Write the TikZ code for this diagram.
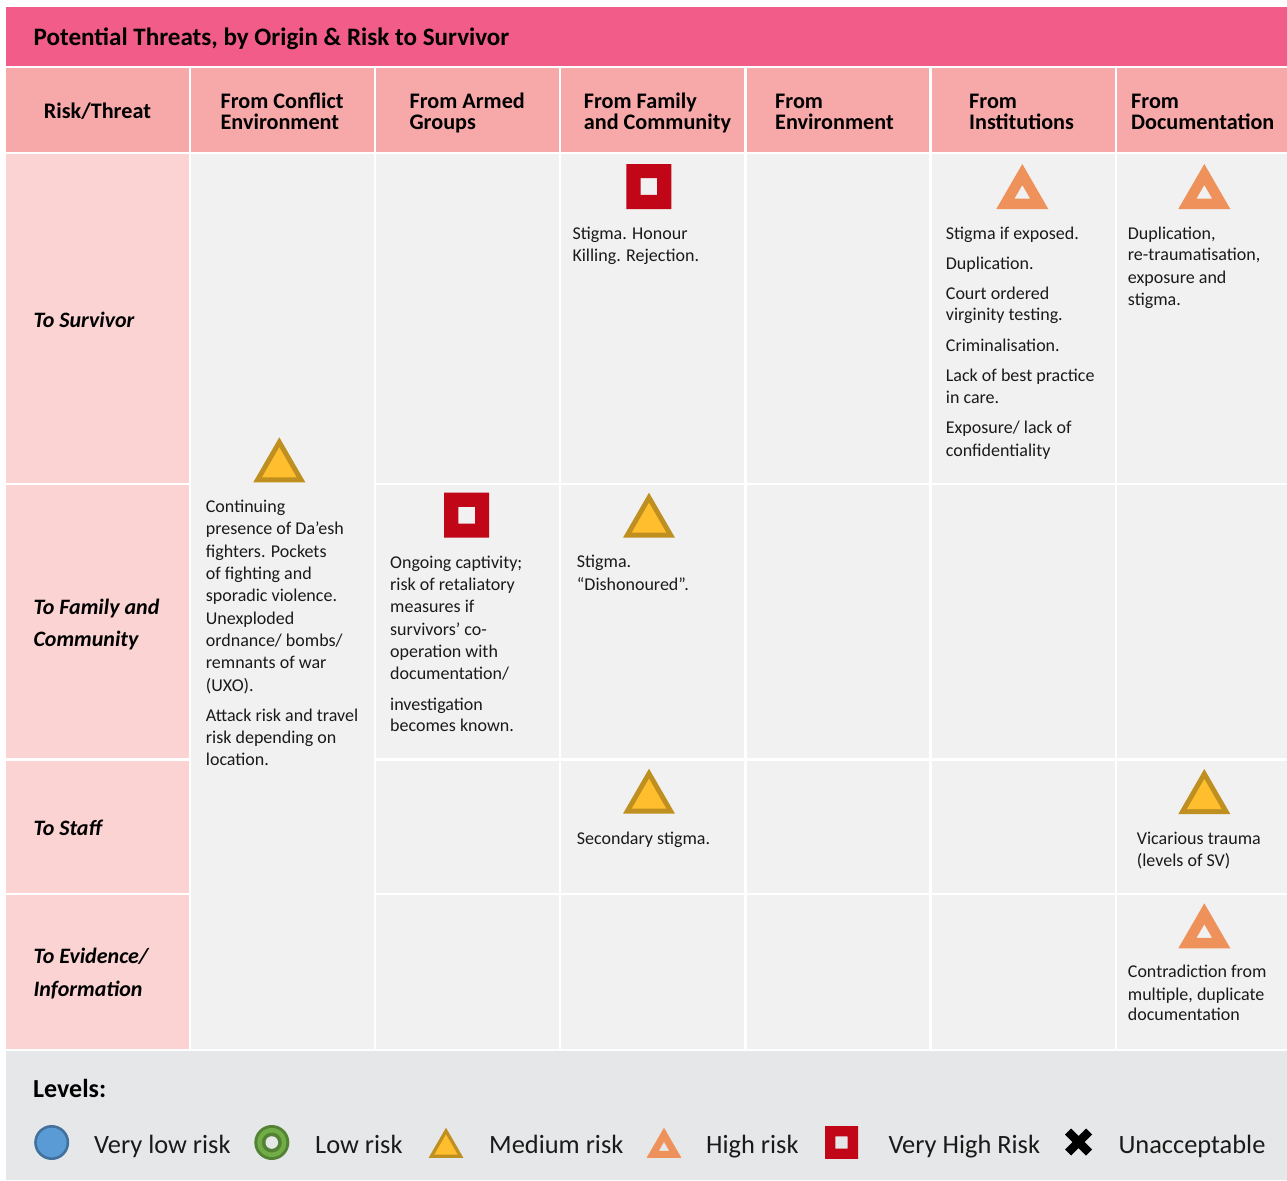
\documentclass[tikz,border=0pt]{standalone}
\usepackage{fontspec}
\setmainfont{Carlito}
\definecolor{titlec}{HTML}{F15C88}
\definecolor{hdrc}{HTML}{F7A9AA}
\definecolor{rowc}{HTML}{FAD3D2}
\definecolor{bodyc}{HTML}{F1F1F1}
\definecolor{legc}{HTML}{E6E7E8}
\definecolor{redc}{HTML}{C00617}
\definecolor{orangec}{HTML}{EF915A}
\definecolor{goldc}{HTML}{FEBE2E}
\definecolor{goldb}{HTML}{BF8F1F}
\definecolor{bluec}{HTML}{5B9BD5}
\definecolor{blueb}{HTML}{41719C}
\definecolor{greend}{HTML}{548235}
\definecolor{greenl}{HTML}{70AD47}
\definecolor{txtc}{HTML}{1A1A1A}
\newcommand\celltext[4]{%
  \foreach \yy/\lin [count=\cnt] in {#4} {\node[#3] (#1-\cnt) at (#2,\yy) {\lin};}}
\begin{document}
\begin{tikzpicture}[x=1pt,y=-1pt,
  bodytxt/.style={inner sep=0pt, anchor=base west, text=txtc, font=\fontsize{18}{22}\selectfont},
  hdrtxt/.style={inner sep=0pt, anchor=base west, text=black, font=\fontsize{22.2}{22}\selectfont\bfseries},
  rowtxt/.style={inner sep=0pt, anchor=base west, text=black, font=\fontsize{22}{22}\selectfont\bfseries\itshape},
  legtxt/.style={inner sep=0pt, anchor=base west, text=txtc, font=\fontsize{26.4}{27}\selectfont},
  medtri/.pic={
    \fill[goldb] (0,0) -- (26,45) -- (-26,45) -- cycle;
    \fill[goldc] (0,10) -- (17.3,40) -- (-17.3,40) -- cycle;},
  hightri/.pic={
    \fill[orangec, even odd rule] (0,0) -- (26,45) -- (-26,45) -- cycle
      (0,21) -- (7.8,34.5) -- (-7.8,34.5) -- cycle;},
  vhsq/.pic={
    \fill[redc, even odd rule] (-22.5,0) rectangle (22.5,45)
      (-8.3,14.2) rectangle (8.3,30.8);}
]
\useasboundingbox (0,0) rectangle (1287,1180);
\fill[white] (0,0) rectangle (1287,1180);
% title bar
\fill[titlec] (6,7) rectangle (1287,66);
\node[inner sep=0pt, anchor=base west, text=black, font=\fontsize{25.1}{25}\selectfont\bfseries] (title) at (33.5,46) {Potential Threats, by Origin \& Risk to Survivor};
% header row
\foreach \xa/\xb in {6/189,191/374,376/559,561/744,747/929,932/1115,1117/1287}
  \fill[hdrc] (\xa,68) rectangle (\xb,152);
% row header cells
\foreach \ya/\yb in {154/483,485/758,761/893,895/1049}
  \fill[rowc] (6,\ya) rectangle (189,\yb);
% merged column 1
\fill[bodyc] (191,154) rectangle (374,1049);
% other body cells
\foreach \xa/\xb in {376/559,561/744,747/929,932/1115,1117/1287}
  \foreach \ya/\yb in {154/483,485/758,761/893,895/1049}
    \fill[bodyc] (\xa,\ya) rectangle (\xb,\yb);
% legend background
\fill[legc] (6,1051) rectangle (1287,1180);

% header texts
\node[hdrtxt, anchor=base] (hrisk) at (97.4,118.5) {Risk/Threat};
\celltext{hconf}{220.4}{hdrtxt}{109/{From Conflict},130/{Environment}}
\celltext{harm}{409.4}{hdrtxt}{109/{From Armed},130/{Groups}}
\celltext{hfam}{583.7}{hdrtxt}{109/{From Family},130/{and Community}}
\celltext{henv}{775}{hdrtxt}{109/{From},130/{Environment}}
\celltext{hinst}{969}{hdrtxt}{109/{From},130/{Institutions}}
\celltext{hdoc}{1131}{hdrtxt}{109/{From},130/{Documentation}}

% row header texts
\celltext{rsurv}{33.3}{rowtxt}{327/{To Survivor}}
\celltext{rfam}{33.3}{rowtxt}{614/{To Family and},646/{Community}}
\celltext{rstaff}{33.3}{rowtxt}{835/{To Staff}}
\celltext{revid}{33.3}{rowtxt}{963.5/{To Evidence/},996/{Information}}

% icons in cells
\pic (i31) at (648.8,164) {vhsq};
\pic (i51) at (1022.3,164) {hightri};
\pic (i61) at (1204.3,164) {hightri};
\pic (i1) at (279.3,437.3) {medtri};
\pic (i22) at (466.7,492.7) {vhsq};
\pic (i32) at (649,492.7) {medtri};
\pic (i33) at (649,768.7) {medtri};
\pic (i63) at (1204.3,769) {medtri};
\pic (i64) at (1204.3,903.3) {hightri};

% cell texts
\celltext{t31}{572.3}{bodytxt}{239.3/{Stigma. Honour},261/{Killing. Rejection.}}
\celltext{t51}{945.7}{bodytxt}{239.3/{Stigma if exposed.},269/{Duplication.},299/{Court ordered},320.7/{virginity testing.},351/{Criminalisation.},381/{Lack of best practice},403.3/{in care.},433.3/{Exposure/ lack of},456/{confidentiality}}
\celltext{t61}{1127.7}{bodytxt}{239.3/{Duplication,},260.7/{re-traumatisation,},283.3/{exposure and},305.7/{stigma.}}
\celltext{t1}{205.7}{bodytxt}{512/{Continuing},534/{presence of Da’esh},557/{fighters. Pockets},579/{of fighting and},601/{sporadic violence.},624/{Unexploded},646/{ordnance/ bombs/},668/{remnants of war},691/{(UXO).},721.5/{Attack risk and travel},743/{risk depending on},765/{location.}}
\celltext{t22}{390}{bodytxt}{568.3/{Ongoing captivity;},590/{risk of retaliatory},612/{measures if},635/{survivors’ co-},657/{operation with},679/{documentation/},710/{investigation},731.7/{becomes known.}}
\celltext{t32}{576.7}{bodytxt}{567.7/{Stigma.},590/{“Dishonoured”.}}
\celltext{t33}{576.7}{bodytxt}{844/{Secondary stigma.}}
\celltext{t63}{1136.7}{bodytxt}{844.3/{Vicarious trauma},866/{(levels of SV)}}
\celltext{t64}{1127.7}{bodytxt}{977.3/{Contradiction from},1000/{multiple, duplicate},1020.7/{documentation}}

% legend
\node[inner sep=0pt, anchor=base west, text=black, font=\fontsize{26}{26}\selectfont\bfseries] (levels) at (33,1097.7) {Levels:};
\fill[bluec, draw=blueb, line width=2.6pt] (51.7,1142.5) circle (16.2);
\fill[greend] (271.8,1142.5) circle (17.5);
\fill[greenl] (271.8,1142.5) circle (14.5);
\fill[greend] (271.8,1142.5) circle (10);
\fill[legc] (271.8,1142.5) circle (6.3);
\pic[scale=0.67] (l3) at (446,1127.7) {medtri};
\pic[scale=0.67] (l4) at (664,1127.7) {hightri};
\pic[scale=0.733] (l5) at (841.5,1126) {vhsq};
\draw[black, line width=8.5pt, line cap=butt] (1068,1131.5) -- (1089,1152.5) (1089,1131.5) -- (1068,1152.5);
\node[legtxt] (lt1) at (94,1153.3) {Very low risk};
\node[legtxt] (lt2) at (315,1153.3) {Low risk};
\node[legtxt] (lt3) at (489,1153.3) {Medium risk};
\node[legtxt] (lt4) at (706,1153.3) {High risk};
\node[legtxt] (lt5) at (888.3,1153.3) {Very High Risk};
\node[legtxt] (lt6) at (1118.3,1153.3) {Unacceptable};
\end{tikzpicture}
\end{document}
